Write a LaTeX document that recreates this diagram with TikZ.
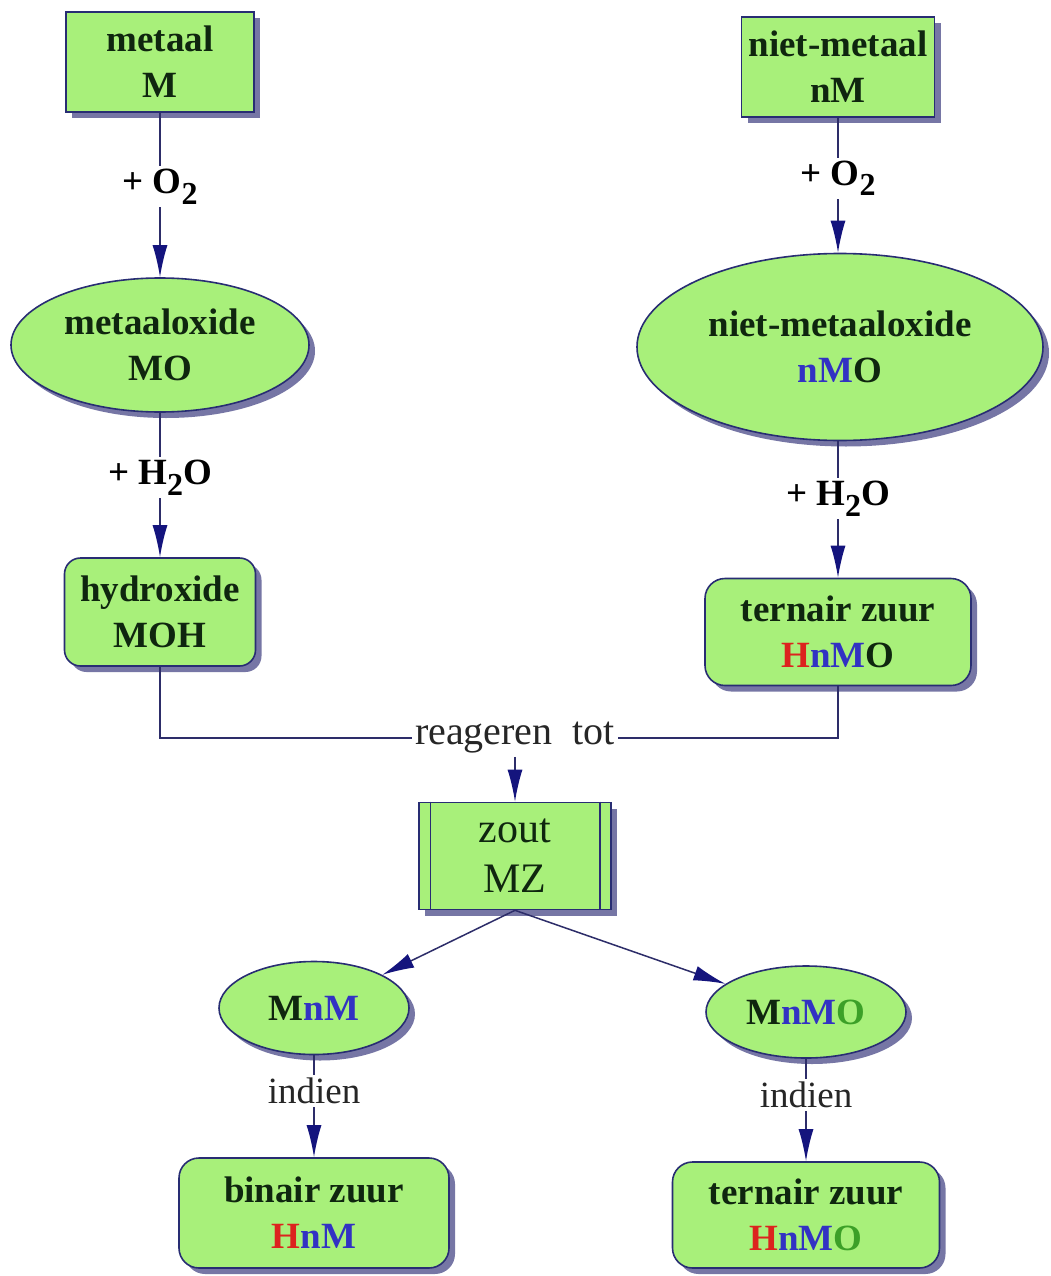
\documentclass[tikz,border=0pt]{standalone}
\usepackage{fontspec}
\setmainfont{Liberation Serif}
\usetikzlibrary{arrows.meta,shapes.geometric,shadows}

\definecolor{boxfill}{RGB}{168,240,122}
\definecolor{boxline}{RGB}{40,45,115}
\definecolor{linecol}{RGB}{45,45,105}
\definecolor{tipcol}{RGB}{20,20,125}
\definecolor{shadowc}{RGB}{95,95,150}
\definecolor{inkc}{RGB}{15,38,15}
\definecolor{hred}{RGB}{220,35,30}
\definecolor{nblue}{RGB}{50,50,195}
\definecolor{ogreen}{RGB}{60,160,40}

\newcommand\chemsub[1]{\raisebox{-0.28em}{\fontsize{32}{32}\selectfont #1}}
\newcommand\cH{\textcolor{hred}{H}}
\newcommand\cn{\textcolor{nblue}{n}}
\newcommand\cM{\textcolor{nblue}{M}}
\newcommand\cO{\textcolor{ogreen}{O}}

\begin{document}
\begin{tikzpicture}[x=1pt,y=-1pt,
  shape base/.style={draw=boxline, line width=1.6pt, fill=boxfill,
    text=inkc, align=center, inner sep=0pt,
    font=\fontsize{37}{46}\selectfont\bfseries,
    drop shadow={shadow xshift=6pt, shadow yshift=-6pt, fill=shadowc, opacity=0.85}},
  sqbox/.style={shape base, rectangle},
  rbox/.style={shape base, rectangle, rounded corners=16pt},
  oval/.style={shape base, ellipse},
  saltbox/.style={shape base, rectangle, font=\fontsize{42}{50}\selectfont\mdseries},
  conn/.style={draw=linecol, line width=1.5pt},
  arr/.style={conn, -{Latex[length=32pt,width=15pt,fill=tipcol,color=tipcol]}},
  steplabel/.style={fill=white, inner sep=3pt, text=black,
    font=\fontsize{37}{37}\selectfont\bfseries},
  plainlabel/.style={fill=white, inner sep=3pt, text=black!85,
    font=\fontsize{40}{40}\selectfont}
]
\path[fill=white] (0,0) rectangle (1051,1276);

% left column: metal route
\node[sqbox, minimum width=188pt, minimum height=100pt] (met) at (160,62) {metaal\\M};
\node[oval, minimum width=298pt, minimum height=134pt] (mox) at (160,345) {metaaloxide\\MO};
\node[rbox, minimum width=191pt, minimum height=108pt] (hyd) at (160,612) {hydroxide\\MOH};

% right column: non-metal route
\node[sqbox, minimum width=193pt, minimum height=100pt] (nmet) at (838,67) {niet-metaal\\nM};
\node[oval, minimum width=406pt, minimum height=187pt] (nmox) at (840,347) {niet-metaaloxide\\\cn\cM O};
\node[rbox, minimum width=266pt, minimum height=107pt, rounded corners=20pt] (tern) at (838,632) {ternair zuur\\\cH\cn\cM O};

% salt and its two kinds
\node[saltbox, minimum width=192pt, minimum height=107pt] (zout) at (515,856) {zout\\MZ};
\draw[boxline, line width=1.4pt] ([xshift=12pt]zout.north west) -- ([xshift=12pt]zout.south west);
\draw[boxline, line width=1.4pt] ([xshift=-12pt]zout.north east) -- ([xshift=-12pt]zout.south east);

\node[oval, minimum width=190pt, minimum height=93pt] (mnm) at (314,1008) {M\cn\cM};
\node[oval, minimum width=200pt, minimum height=92pt] (mnmo) at (806,1012) {M\cn\cM\cO};
\node[rbox, minimum width=270pt, minimum height=110pt, rounded corners=20pt] (bin) at (314,1213) {binair zuur\\\cH\cn\cM};
\node[rbox, minimum width=267pt, minimum height=106pt, rounded corners=20pt] (tern2) at (806,1215) {ternair zuur\\\cH\cn\cM\cO};

% reaction steps
\draw[arr] (met.south) -- node[steplabel, pos=0.45] {+ O\chemsub{2}} (mox.north);
\draw[arr] (nmet.south) -- node[steplabel, pos=0.45] {+ O\chemsub{2}} (nmet.south |- nmox.north);
\draw[arr] (mox.south) -- node[steplabel, pos=0.45] {+ H\chemsub{2}O} (hyd.north);
\draw[arr] (nmet.south |- nmox.south) -- node[steplabel, pos=0.42] {+ H\chemsub{2}O} (tern.north);

% hydroxide and acid react to salt
\node[plainlabel] (react) at (515,738) {reageren\ \ tot};
\draw[conn] (hyd.south) |- (react.west);
\draw[conn] (tern.south) |- (react.east);
\draw[arr] (react.south) -- (zout.north);

\draw[arr] (zout.south) -- (mnm);
\draw[arr] (zout.south) -- (mnmo);

\draw[arr] (mnm.south) -- node[plainlabel, pos=0.35, font=\fontsize{37}{37}\selectfont] {indien} (bin.north);
\draw[arr] (mnmo.south) -- node[plainlabel, pos=0.35, font=\fontsize{37}{37}\selectfont] {indien} (tern2.north);
\end{tikzpicture}
\end{document}
